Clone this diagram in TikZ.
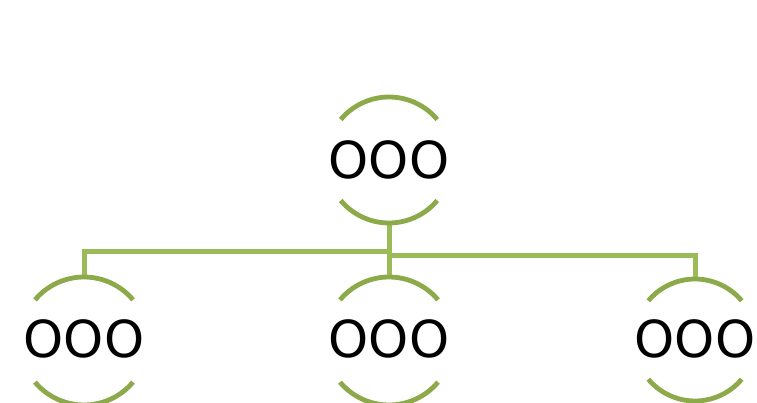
\documentclass[tikz,border=0pt]{standalone}
\usepackage{fontspec}
\setmainfont{DejaVu Sans}
\definecolor{arcgreen}{HTML}{8DAA4B}
\definecolor{linegreen}{HTML}{9BBB59}
\begin{document}
\begin{tikzpicture}[x=1pt,y=1pt,
  unit/.style={inner sep=0pt,outer sep=0pt,font=\fontsize{51}{61}\selectfont},
  ring/.style={draw=arcgreen,line width=4.8pt},
  link/.style={draw=linegreen,line width=5pt}]
\useasboundingbox (0,0) rectangle (757,402);
\node[unit] (t) at (389,242) {OOO};
\node[unit] (l) at (84,63) {OOO};
\node[unit] (m) at (389,63) {OOO};
\node[unit] (r) at (695,63) {OOO};
% connectors
\draw[link] ([yshift=-63pt]t.center) -- ([yshift=62pt]m.center);
\draw[link] ([yshift=-91pt]t.center) -| ([yshift=62pt]l.center);
\draw[link] ([yshift=-95pt]t.center) -| ([yshift=59pt]r.center);
% rings
\draw[ring] ([shift={(40:63)}]t.center) arc[start angle=40,end angle=140,radius=63];
\draw[ring] ([shift={(220:63)}]t.center) arc[start angle=220,end angle=320,radius=63];
\draw[ring] ([shift={(40:64)}]l.center) ++(0,-2) arc[start angle=40,end angle=140,radius=64];
\draw[ring] ([shift={(220:64)}]l.center) ++(0,-2) arc[start angle=220,end angle=320,radius=64];
\draw[ring] ([shift={(40:64)}]m.center) ++(0,-2) arc[start angle=40,end angle=140,radius=64];
\draw[ring] ([shift={(220:64)}]m.center) ++(0,-2) arc[start angle=220,end angle=320,radius=64];
\draw[ring] ([shift={(40:61)}]r.center) ++(0,-1) arc[start angle=40,end angle=140,radius=61];
\draw[ring] ([shift={(220:61)}]r.center) ++(0,-1) arc[start angle=220,end angle=320,radius=61];
\end{tikzpicture}
\end{document}
